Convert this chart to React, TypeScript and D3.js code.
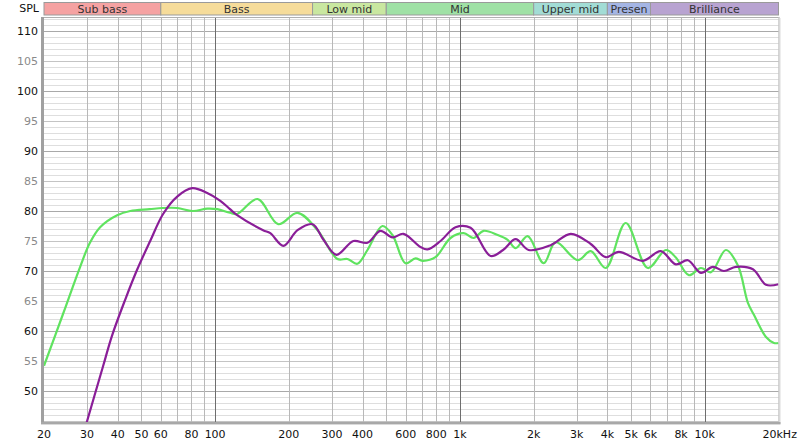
import React from "react";
import * as d3 from "d3";

const W = 800;
const H = 444;

const bandNames = ["Sub bass", "Bass", "Low mid", "Mid", "Upper mid", "Presen", "Brilliance"];
const bandStarts = [20, 60, 250, 500, 2000, 4000, 6000];
const bandEnds = [60, 250, 500, 2000, 4000, 6000, 20000];
const bandColors = ["#f5a2a2", "#f6dc9a", "#c9e7a0", "#9fe1a5", "#a2dcd5", "#a4b5e4", "#b8a3d1"];

const yTicks = [50, 55, 60, 65, 70, 75, 80, 85, 90, 95, 100, 105, 110];
const xTickValues = [20, 30, 40, 50, 60, 80, 100, 200, 300, 400, 600, 800, 1000, 2000, 3000, 4000, 5000, 6000, 8000, 10000, 20000];
const xTickLabels = ["20", "30", "40", "50", "60", "80", "100", "200", "300", "400", "600", "800", "1k", "2k", "3k", "4k", "5k", "6k", "8k", "10k", "20kHz"];

const greenFreq = [20, 24, 28.1, 30.8, 33.9, 39.8, 45, 54, 61, 70, 81, 93, 102, 115, 123, 149, 181, 217, 262, 316, 347, 381, 419, 482, 530, 599, 658, 703, 794, 915, 1035, 1137, 1249, 1426, 1566, 1688, 1890, 2198, 2461, 3028, 3420, 3941, 4754, 5850, 6934, 7600, 8610, 9640, 10596, 12200, 13656, 15000, 15870, 17780, 19170, 20000];
const greenSpl = [54.2, 63, 70.7, 74.7, 77.3, 79.3, 80.0, 80.3, 80.5, 80.5, 80.0, 80.4, 80.3, 79.7, 79.5, 82.0, 77.8, 79.7, 76.8, 72.0, 72.0, 71.2, 73.5, 77.5, 76.0, 71.3, 72.1, 71.7, 72.3, 75.5, 76.3, 75.5, 76.7, 76.0, 75.2, 73.8, 75.8, 71.3, 74.8, 71.8, 73.3, 70.5, 78.0, 70.5, 73.5, 72.3, 69.3, 70.5, 69.8, 73.5, 70.9, 64.7, 62.7, 59.0, 58.0, 58.0];

const purpleFreq = [27, 30, 34.9, 37.9, 42.9, 48, 54.3, 61.3, 70, 80.6, 92.8, 105, 115, 123, 157, 168, 190, 217, 250, 277, 313, 367, 419, 473, 530, 588, 690, 737, 833, 959, 1105, 1334, 1500, 1688, 1908, 2347, 2835, 3420, 3941, 4454, 5582, 6610, 7618, 8532, 9640, 10793, 11970, 13400, 15725, 17780, 20000];
const purpleSpl = [38.4, 45.0, 54.2, 59.2, 65.2, 70.2, 75.0, 79.5, 82.4, 83.8, 83.0, 81.7, 80.3, 79.3, 76.8, 76.3, 74.2, 76.8, 77.8, 75.2, 72.7, 75.0, 74.7, 76.7, 75.6, 76.2, 74.0, 73.6, 75.0, 77.3, 77.2, 72.5, 73.5, 75.3, 73.5, 74.3, 76.2, 74.5, 72.3, 73.2, 71.7, 73.3, 71.1, 71.8, 69.7, 70.7, 70.0, 70.7, 70.3, 67.7, 67.8];

const left = 44;
const right = 778.5;
const top = 17;
const bottom = 422;

export default function App() {
  const x = d3.scaleLog().domain([20, 20000]).range([left, right]);
  const y = d3.scaleLinear().domain([110, 50]).range([31, 391]);

  const minorY = d3.range(45, 113, 1);
  const gridFreqs: number[] = [];
  [10, 100, 1000, 10000].forEach((dec) => {
    for (let m = 1; m <= 9; m++) {
      const f = dec * m;
      if (f > 20 && f < 20000) gridFreqs.push(f);
    }
  });

  const line = d3
    .line<[number, number]>()
    .x((d) => x(d[0]))
    .y((d) => y(d[1]))
    .curve(d3.curveCatmullRom.alpha(0.5));

  const greenPts = greenFreq.map((f, i) => [f, greenSpl[i]] as [number, number]);
  const purplePts = purpleFreq.map((f, i) => [f, purpleSpl[i]] as [number, number]);

  const font = "'DejaVu Sans', Verdana, sans-serif";

  return (
    <svg
      width={W}
      height={H}
      viewBox={`0 0 ${W} ${H}`}
      style={{ position: "absolute", left: 0, top: 0, background: "#fff" }}
      fontFamily={font}
    >
      <defs>
        <clipPath id="plot">
          <rect x={left} y={top} width={right - left} height={bottom - top} />
        </clipPath>
      </defs>
      <rect x={0} y={0} width={W} height={H} fill="#fff" />

      {/* bands */}
      {bandNames.map((n, i) => {
        const x0 = x(bandStarts[i]);
        const x1 = x(bandEnds[i]);
        return (
          <g key={n}>
            <rect x={x0} y={2.5} width={x1 - x0} height={12.5} fill={bandColors[i]} stroke="#9a9a9a" strokeWidth={1} />
            <text x={(x0 + x1) / 2} y={12.5} textAnchor="middle" fontSize={11} fill="#333">
              {n}
            </text>
          </g>
        );
      })}
      <text x={39} y={12} textAnchor="end" fontSize={11} fill="#111">
        SPL
      </text>

      {/* plot background */}
      <rect x={left} y={top} width={right - left} height={bottom - top} fill="#fff" />

      {/* horizontal grid */}
      {minorY.map((v) => {
        const yy = Math.round(y(v)) + 0.5;
        if (yy < top || yy > bottom) return null;
        const col = v % 10 === 0 ? "#a9a9a9" : v % 5 === 0 ? "#c4c4c4" : "#dedede";
        return <line key={"h" + v} x1={left} x2={right} y1={yy} y2={yy} stroke={col} strokeWidth={1} />;
      })}

      {/* vertical grid */}
      {gridFreqs.map((f) => {
        const xx = Math.round(x(f)) + 0.5;
        const major = f === 100 || f === 1000 || f === 10000;
        return (
          <line key={"v" + f} x1={xx} x2={xx} y1={top} y2={bottom} stroke={major ? "#6e6e6e" : "#b8b8b8"} strokeWidth={1} />
        );
      })}

      {/* curves */}
      <g clipPath="url(#plot)">
        <path d={line(greenPts) || ""} fill="none" stroke="#5fe35f" strokeWidth={2.2} strokeLinejoin="round" />
        <path d={line(purplePts) || ""} fill="none" stroke="#8a1e98" strokeWidth={2.2} strokeLinejoin="round" />
      </g>

      {/* frame */}
      <line x1={left} x2={right} y1={top + 0.5} y2={top + 0.5} stroke="#b0b0b0" strokeWidth={1} />
      <line x1={right + 0.5} x2={right + 0.5} y1={top} y2={bottom + 1} stroke="#a8a8a8" strokeWidth={1} />
      <line x1={right + 1.5} x2={right + 1.5} y1={top + 1} y2={bottom + 2} stroke="#dcdcdc" strokeWidth={1} />
      <line x1={left - 1.5} x2={left - 1.5} y1={top} y2={bottom + 2} stroke="#a0a0a0" strokeWidth={3} />
      <line x1={left - 3} x2={right + 2} y1={bottom + 1} y2={bottom + 1} stroke="#a8a8a8" strokeWidth={2} />
      <line x1={left - 3} x2={right + 2} y1={bottom + 2.5} y2={bottom + 2.5} stroke="#dadada" strokeWidth={1} />

      {/* y labels */}
      {yTicks.map((v) => (
        <text
          key={"yl" + v}
          x={38}
          y={y(v) + 4}
          textAnchor="end"
          fontSize={11}
          fill={v % 10 === 0 ? "#111" : "#8a8a8a"}
        >
          {v}
        </text>
      ))}

      {/* x labels */}
      {xTickValues.map((f, i) => {
        const last = i === xTickValues.length - 1;
        return (
          <text
            key={"xl" + f}
            x={last ? x(f) - 16 : x(f)}
            y={438}
            textAnchor={last ? "start" : "middle"}
            fontSize={11}
            fill="#111"
          >
            {xTickLabels[i]}
          </text>
        );
      })}
    </svg>
  );
}
